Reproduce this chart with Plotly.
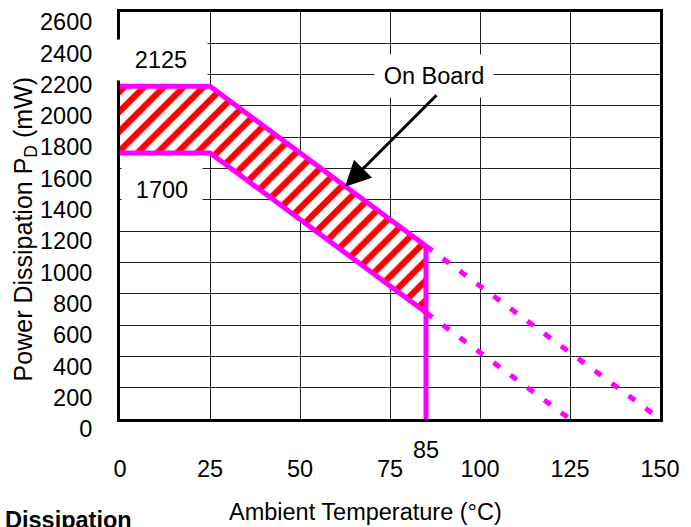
import plotly.graph_objects as go

# ---- data ----
upper_x = [0, 25, 85]
upper_y = [2125, 2125, 1105]
lower_x = [0, 25, 85]
lower_y = [1700, 1700, 680]
cutoff_x = [85, 85]
cutoff_y = [1105, 0]
ext_upper_x = [85, 150]
ext_upper_y = [1105, 0]
ext_lower_x = [85, 125]
ext_lower_y = [680, 0]
x_ticks = [0, 25, 50, 75, 100, 125, 150]
y_ticks = list(range(0, 2601, 200))
label_high = "2125"
label_low = "1700"

MAG = "#ff00ff"
FONT = "Liberation Sans, Arial, sans-serif"
FS = 23.5

fig = go.Figure()

# hatched band
fig.add_trace(go.Scatter(
    x=upper_x + lower_x[::-1],
    y=upper_y + lower_y[::-1],
    mode="none", fill="toself",
    fillpattern=dict(shape="/", fgcolor="#ff0000", bgcolor="white",
                     fgopacity=1, size=14, solidity=0.45),
    fillcolor="white", hoverinfo="skip", showlegend=False))

line_s = dict(color=MAG, width=5)
for xs, ys in [(upper_x, upper_y), (lower_x, lower_y), (cutoff_x, cutoff_y)]:
    fig.add_trace(go.Scatter(x=xs, y=ys, mode="lines", line=line_s,
                             showlegend=False, hoverinfo="skip"))
for xs, ys in [(ext_upper_x, ext_upper_y), (ext_lower_x, ext_lower_y)]:
    fig.add_trace(go.Scatter(x=xs, y=ys, mode="lines",
                             line=dict(color=MAG, width=5, dash="8px,13px"),
                             showlegend=False, hoverinfo="skip"))

ann = []
# boxed labels (white background hides grid)
ann.append(dict(x=11.4, y=2295, text=label_high, showarrow=False,
                bgcolor="white", width=90, height=38,
                font=dict(family=FONT, size=FS, color="black")))
ann.append(dict(x=11.7, y=1465, text=label_low, showarrow=False,
                bgcolor="white", width=78, height=46,
                font=dict(family=FONT, size=FS, color="black")))
ann.append(dict(x=87.2, y=2190, text="On Board", showarrow=False,
                bgcolor="white", width=116, height=40,
                font=dict(family=FONT, size=FS, color="black")))
# arrow
ann.append(dict(x=62.5, y=1484, text="", showarrow=True, axref="pixel",
                ayref="pixel", ax=93, ay=-93, arrowhead=2, arrowsize=1.7,
                arrowwidth=3, arrowcolor="black"))
# 85 marker label
ann.append(dict(x=85, y=-0.0756, yref="paper", text="85", showarrow=False,
                yanchor="middle",
                font=dict(family=FONT, size=FS, color="black")))
# axis titles
ann.append(dict(xref="paper", yref="paper", x=(365 - 120) / 540,
                y=(419 - 513) / 410, text="Ambient Temperature (°C)",
                showarrow=False, xanchor="center", yanchor="middle",
                font=dict(family=FONT, size=FS, color="black")))
ann.append(dict(xref="paper", yref="paper", x=(25 - 120) / 540,
                y=(419 - 228) / 410,
                text="Power Dissipation P<sub>D</sub> (mW)",
                textangle=-90, showarrow=False, xanchor="center",
                yanchor="middle",
                font=dict(family=FONT, size=25, color="black")))
# cut-off caption fragment
ann.append(dict(xref="paper", yref="paper", x=(134 - 120) / 540,
                y=(419 - 521) / 410, text="<b>Dissipation</b>",
                showarrow=False, xanchor="right", yanchor="middle",
                font=dict(family=FONT, size=FS, color="black")))

fig.update_layout(
    width=691, height=527,
    margin=dict(l=120, r=31, t=9, b=108),
    paper_bgcolor="white", plot_bgcolor="white",
    annotations=ann,
    font=dict(family=FONT, size=FS, color="black"),
)
fig.update_xaxes(range=[0, 150], tickvals=x_ticks,
                 ticktext=[str(v) for v in x_ticks],
                 showgrid=True, gridcolor="#222", gridwidth=1,
                 showline=True, linecolor="black", linewidth=3, mirror=True,
                 ticks="", ticklabelstandoff=27, zeroline=False,
                 tickfont=dict(family=FONT, size=FS, color="black"))
fig.update_yaxes(range=[0, 2600], tickvals=y_ticks,
                 ticktext=[str(v) for v in y_ticks],
                 showgrid=True, gridcolor="#222", gridwidth=1,
                 showline=True, linecolor="black", linewidth=3, mirror=True,
                 ticks="", ticklabelstandoff=20, ticklabelshift=10,
                 zeroline=False,
                 tickfont=dict(family=FONT, size=FS, color="black"))

fig.write_html("out.html", config={"displayModeBar": False},
               post_script="document.body.style.margin='0';"
                           "document.body.style.padding='0';")
